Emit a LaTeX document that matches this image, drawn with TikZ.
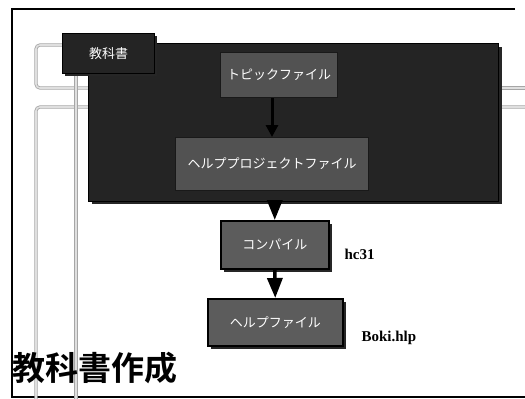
\documentclass[tikz,border=0pt]{standalone}
\usepackage{fontspec}
\newfontfamily\jp{Noto Sans CJK JP}
\newfontfamily\jpb{Noto Sans CJK JP Bold}
\setmainfont{Liberation Serif}
\usetikzlibrary{arrows.meta}
\begin{document}
\begin{tikzpicture}[x=1pt,y=-1pt,
  glin/.style={draw=gray!70,line width=0.8pt,double=gray!25,double distance=1.6pt,rounded corners=4pt},
  frm/.style={draw=black,line width=2.5pt},
  inbox/.style={draw=black!90,fill=black!68,line width=1pt,text=white!65,font=\jp\fontsize{13}{13}\selectfont,inner sep=0pt},
  outbox/.style={draw=black,fill=black!64,line width=1.5pt,text=white!75,font=\jp\fontsize{13}{13}\selectfont,inner sep=0pt},
  shad/.style={fill=black!85},
  arr/.style={line width=3.5pt,-{Triangle[width=15pt,length=20pt]}},
  lbl/.style={font=\bfseries\fontsize{15}{15}\selectfont,anchor=west}]
\useasboundingbox (0,0) rectangle (525,399);
% outer frame
\draw[frm] (515,9) -- (12,9) -- (12,397) -- (525,397);
% gray double lines
\draw[glin] (100,88) -- (36,88) -- (36,45) -- (70,45);
\draw[glin] (525,107) -- (36,107) -- (36,399);
\draw[glin] (525,88) -- (480,88);
\draw[glin] (76,70) -- (76,399);
% big box with tab
\fill[shad] (92,47) rectangle (502,204);
\node[draw=black,fill=black!86,line width=1pt,minimum width=410pt,minimum height=158pt,inner sep=0pt,anchor=north west] (big) at (88,43) {};
\fill[shad] (65,36) rectangle (157,76);
\node[draw=black,fill=black!86,line width=1pt,minimum width=92pt,minimum height=40pt,inner sep=0pt,anchor=north west,text=white!45,font=\jp\fontsize{13}{13}\selectfont] (tab) at (62,33) {教科書};
% inner boxes
\node[inbox,minimum width=117pt,minimum height=45pt,anchor=north west] (b1) at (220,52) {トピックファイル};
\node[inbox,minimum width=193pt,minimum height=53pt,anchor=north west] (b2) at (175,137) {ヘルププロジェクトファイル};
\draw[arr,line width=3pt,-{Triangle[width=12pt,length=12pt]}] (b1.south -| b2.north) -- (b2.north);
% lower boxes
\fill[shad] (224,224) rectangle (332,272);
\node[outbox,minimum width=108pt,minimum height=48pt,anchor=north west] (b3) at (220,220) {コンパイル};
\fill[shad] (211,302) rectangle (346,349);
\node[outbox,minimum width=135pt,minimum height=47pt,anchor=north west] (b4) at (207,298) {ヘルプファイル};
\draw[arr] (big.south -| b3.north) -- (b3.north);
\draw[arr] (b3.south) -- (b4.north);
\node[lbl] (l3) at (341,254) {hc31};
\node[lbl] (l4) at (358,338) {Boki.hlp};
% title
\node[anchor=west,inner sep=0pt,font=\jpb\fontsize{33}{33}\selectfont] (title) at (12,368) {教科書作成};
\end{tikzpicture}
\end{document}
